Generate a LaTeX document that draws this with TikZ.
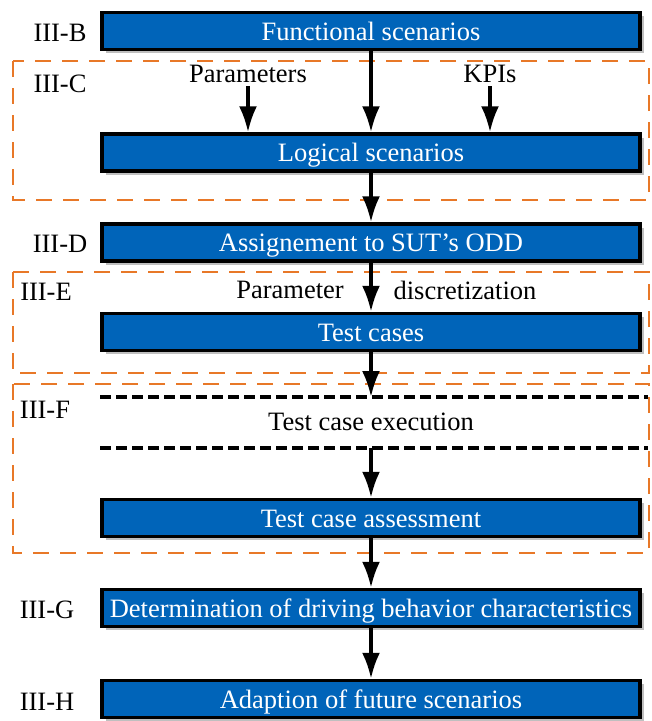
\documentclass[tikz,border=0pt]{standalone}
\usepackage{fontspec}
\setmainfont{Liberation Serif}
\usetikzlibrary{arrows.meta,shadows}

\definecolor{boxblue}{RGB}{0,100,185}
\definecolor{secorange}{RGB}{232,120,40}

\tikzset{
	stage/.style = {draw = black, line width = 3.5pt, fill = boxblue, text = white,
		minimum width = 538pt, minimum height = 37pt, inner sep = 0pt,
		text height = 21pt, text depth = 3pt,
		drop shadow = {shadow xshift = 3.5pt, shadow yshift = -3.5pt, opacity = 0.5}},
	flow/.style = {line width = 3.5pt, -{Latex[length = 26pt, width = 18pt]}},
	section/.style = {draw = secorange, line width = 2.5pt, dash pattern = on 16pt off 11pt},
	execline/.style = {line width = 3.5pt, dash pattern = on 11pt off 5pt},
	tag/.style = {inner sep = 0pt}
}

\begin{document}
\begin{tikzpicture}[x = 1pt, y = -1pt, font = \rmfamily\fontsize{26.5}{30}\selectfont]
	\useasboundingbox (0, 0) rectangle (652, 721);

	% sections
	\draw [section] (13, 61) rectangle (649, 200);
	\draw [section] (13, 272) rectangle (649, 373);
	\draw [section] (13, 384) rectangle (649, 553);

	% stages
	\node [stage] (func) at (371, 31 ) {Functional scenarios};
	\node [stage] (logic) at (371, 152.5) {Logical scenarios};
	\node [stage] (odd) at (371, 242.5) {Assignement to SUT's ODD};
	\node [stage] (cases) at (371, 332 ) {Test cases};
	\node [stage] (assess) at (371, 518 ) {Test case assessment};
	\node [stage] (behav) at (371, 608 ) {Determination of driving behavior characteristics};
	\node [stage] (adapt) at (371, 699 ) {Adaption of future scenarios};

	% execution step
	\coordinate (exectopl) at (100, 397);
	\coordinate (exectopr) at (648, 397);
	\coordinate (execbotl) at (100, 448);
	\coordinate (execbotr) at (648, 448);
	\draw [execline] (exectopl) -- (exectopr);
	\draw [execline] (execbotl) -- (execbotr);
	\node (exec) at (371, 422) {Test case execution};

	% inputs
	\node (param) at (248, 74 ) {Parameters};
	\node (kpi) at (490, 74 ) {KPIs};
	\node (disca) at (290, 290) {Parameter};
	\node (discb) at (465, 290) {discretization};

	% section tags
	\node [tag] (tb) at (60, 33 ) {III-B};
	\node [tag] (tc) at (60, 84 ) {III-C};
	\node [tag] (td) at (60, 244) {III-D};
	\node [tag] (te) at (46, 292) {III-E};
	\node [tag] (tf) at (45, 410) {III-F};
	\node [tag] (tg) at (47, 610) {III-G};
	\node [tag] (th) at (47, 702) {III-H};

	% arrows
	\draw [flow] (func) to (logic);
	\draw [flow] (param.south) to (param.south |- logic.north);
	\draw [flow] (kpi.south) to (kpi.south |- logic.north);
	\draw [flow] (logic) to (odd);
	\draw [flow] (odd) to (cases);
	\draw [flow] (cases.south) to (cases.south |- exectopl);
	\draw [flow] (cases.south |- execbotl) to (assess.north);
	\draw [flow] (assess) to (behav);
	\draw [flow] (behav) to (adapt);
\end{tikzpicture}
\end{document}
